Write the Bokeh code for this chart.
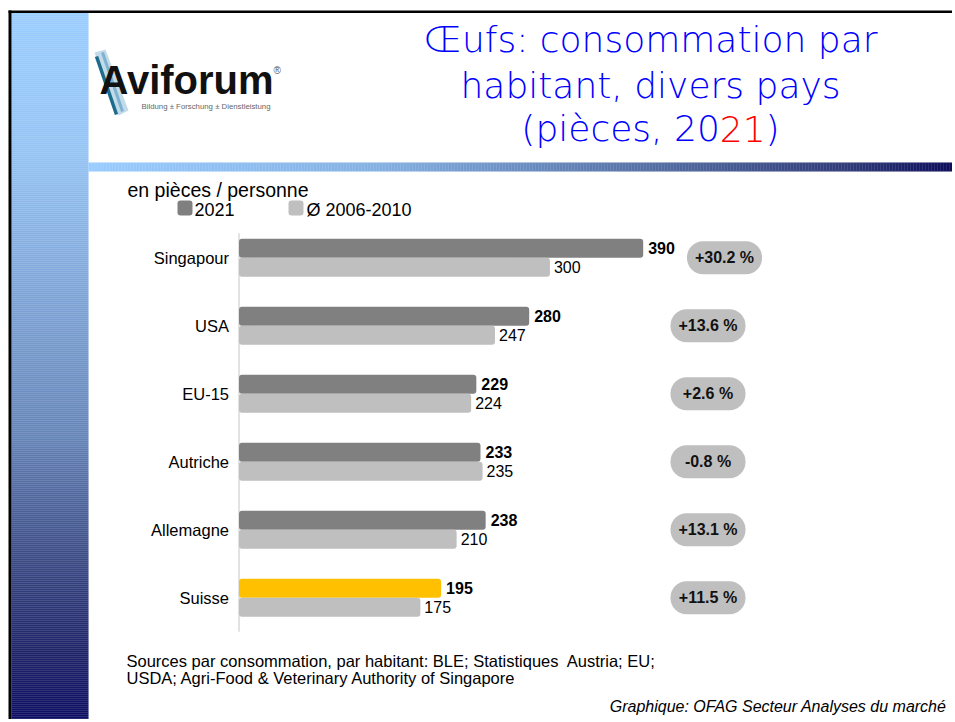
from bokeh.plotting import figure
from bokeh.models import Range1d
from bokeh.core.properties import value
from bokeh.embed import file_html
from bokeh.resources import INLINE

# ---------------- data ----------------
countries = ["Singapour", "USA", "EU-15", "Autriche", "Allemagne", "Suisse"]
values_2021 = [390, 280, 229, 233, 238, 195]
values_avg = [300, 247, 224, 235, 210, 175]
changes = ["+30.2 %", "+13.6 %", "+2.6 %", "-0.8 %", "+13.1 %", "+11.5 %"]
highlight = "Suisse"
series_labels = ["2021", "Ø 2006-2010"]
unit_label = "en pièces / personne"
title_lines = ["Œufs: consommation par", "habitant, divers pays"]
title_line3 = ["(pièces, 20", "21", ")"]
source_lines = ["Sources par consommation, par habitant: BLE; Statistiques\u00a0 Austria; EU;",
                "USDA; Agri-Food & Veterinary Authority of Singapore"]
credit = "Graphique: OFAG Secteur Analyses du marché"
logo_name = "Aviforum"
logo_tag = "Bildung ± Forschung ± Dienstleistung"

# ---------------- layout / style ----------------
W, H = 952, 719
OX, OY = 0, 0                     # figure units == page pixels
X0 = 238.5                        # page x of value 0
K = 1.0364                        # pixels per piece
Y0 = 257.3                        # page y of first row centre
ROW = 68.0                        # pixels per row
BAR = 19.0 / ROW                  # bar thickness in row units
PILL_H = 33.0 / ROW
PILL_W = 75.0
pill_cx = [724, 707.5, 707.5, 707.5, 707.5, 707.5]

DARK, LIGHT, YELLOW = "#808080", "#BFBFBF", "#FFC000"
ARIAL = value("Liberation Sans")
TITLE_FONT = value("'DejaVu Sans Light', 'DejaVu Sans'")


def mid(baseline, size, k=0.31):
    """y of the em-box middle for a text whose baseline should sit at `baseline`"""
    return baseline - k * size


p = figure(width=W, height=H, x_range=Range1d(OX, OX + W), y_range=Range1d(OY + H, OY),
           x_axis_type=None, y_axis_type=None, output_backend="svg",
           toolbar_location=None, tools="", min_border=0,
           outline_line_color=None, background_fill_color="white",
           border_fill_color="white")
p.extra_x_ranges = {"val": Range1d((OX - X0) / K, (OX + W - X0) / K)}
p.extra_y_ranges = {"row": Range1d((OY + H - Y0) / ROW, (OY - Y0) / ROW)}


def lerp_color(stops, pos):
    for (p0, c0), (p1, c1) in zip(stops, stops[1:]):
        if p0 <= pos <= p1:
            t = (pos - p0) / (p1 - p0)
            c = [round(a + (b - a) * t) for a, b in zip(c0, c1)]
            return "#%02x%02x%02x" % tuple(c)
    return "#%02x%02x%02x" % tuple(stops[-1][1])


# ---------------- slide decoration ----------------
band_stops = [(12, (153, 204, 255)), (150, (148, 196, 244)), (250, (134, 174, 224)),
              (436, (101, 132, 184)), (550, (62, 78, 136)), (650, (30, 36, 104)),
              (722, (12, 12, 98))]
ys = list(range(12, OY + H, 2))
p.quad(left=11, right=88, top=ys, bottom=[y + 2.2 for y in ys],
       fill_color=[lerp_color(band_stops, y + 1) for y in ys], line_color=None)

bar_stops = [(88, (153, 204, 255)), (380, (133, 176, 226)), (666, (82, 107, 160)),
             (850, (48, 58, 120)), (955, (12, 12, 90))]
xs = list(range(88, OX + W, 3))
p.quad(left=xs, right=[x + 3.3 for x in xs], top=162, bottom=171,
       fill_color=[lerp_color(bar_stops, x + 1.5) for x in xs], line_color=None)

# black frame
p.quad(left=8, right=11, top=10, bottom=OY + H, fill_color="black", line_color=None)
p.quad(left=8, right=OX + W, top=10, bottom=12.5, fill_color="black", line_color=None)

# logo
p.patch(x=[94, 105, 128, 118], y=[52, 49, 110, 115], fill_color="#BCD6E8",
        line_color=None, fill_alpha=0.9)
p.line(x=[102, 122], y=[52, 111], line_color="#7DB3CF", line_width=3)
p.line(x=[96, 116], y=[56, 114], line_color="#1D6C8C", line_width=3.5)
p.text(x=[99], y=[mid(92, 40)], text=[logo_name], text_font=ARIAL, text_font_size="40px",
       text_font_style="bold", text_color="#111111", text_baseline="middle")
p.text(x=[273], y=[70], text=["®"], text_font=ARIAL, text_font_size="10px",
       text_color="#555555", text_baseline="middle")
p.text(x=[141], y=[105.5], text=[logo_tag], text_font=ARIAL, text_font_size="7.8px",
       text_color="#666666", text_baseline="middle")

# title
TS = 36
TK = 0.30
p.text(x=[650, 650], y=[mid(50, TS, TK), mid(96, TS, TK)], text=title_lines,
       text_font=TITLE_FONT, text_font_size=f"{TS}px", text_color="#0000FF",
       text_align="center", text_baseline="middle")
w_a, w_b, w_c = 5.512 * TS, 1.272 * TS, 0.39 * TS
x_start = 650 - (w_a + w_b + w_c) / 2
x_red = x_start + w_a
y3 = mid(139, TS, TK)
p.text(x=[x_red], y=[y3], text=[title_line3[0]], text_font=TITLE_FONT,
       text_font_size=f"{TS}px", text_color="#0000FF", text_align="right",
       text_baseline="middle")
p.text(x=[x_red], y=[y3], text=[title_line3[1]], text_font=TITLE_FONT,
       text_font_size=f"{TS}px", text_color="#FF0000", text_align="left",
       text_baseline="middle")
p.text(x=[x_red + w_b], y=[y3], text=[title_line3[2]], text_font=TITLE_FONT,
       text_font_size=f"{TS}px", text_color="#0000FF", text_align="left",
       text_baseline="middle")

# ---------------- legend ----------------
p.text(x=[127], y=[mid(196, 19.5)], text=[unit_label], text_font=ARIAL,
       text_font_size="19.5px", text_color="black", text_baseline="middle")
p.quad(left=[177, 288], right=[192, 303], top=200, bottom=215,
       fill_color=[DARK, LIGHT], line_color=None, border_radius=3)
p.text(x=[194, 306], y=[mid(215, 18)] * 2, text=series_labels, text_font=ARIAL,
       text_font_size="18px", text_color="black", text_baseline="middle")

# ---------------- chart ----------------
rows = list(range(len(countries)))
dark_colors = [YELLOW if c == highlight else DARK for c in countries]

p.segment(x0=[0], x1=[0], y0=[rows[0] - 0.36], y1=[rows[-1] + 0.5],
          line_color="#D9D9D9", line_width=1.5, x_range_name="val", y_range_name="row")

p.hbar(y=[r - BAR / 2 for r in rows], height=BAR, left=0, right=values_2021,
       fill_color=dark_colors, line_color=None, border_radius=3,
       x_range_name="val", y_range_name="row")
p.hbar(y=[r + BAR / 2 for r in rows], height=BAR, left=0, right=values_avg,
       fill_color=LIGHT, line_color=None, border_radius=3,
       x_range_name="val", y_range_name="row")

p.text(x=[0] * len(rows), y=rows, text=countries, x_offset=-10, text_align="right",
       text_baseline="middle", text_font=ARIAL, text_font_size="16.5px",
       text_color="black", x_range_name="val", y_range_name="row")
p.text(x=values_2021, y=[r - BAR / 2 for r in rows], text=[str(v) for v in values_2021],
       x_offset=5, text_baseline="middle", text_font=ARIAL, text_font_size="16px",
       text_font_style="bold", text_color="black", x_range_name="val", y_range_name="row")
p.text(x=values_avg, y=[r + BAR / 2 for r in rows], text=[str(v) for v in values_avg],
       x_offset=4, text_baseline="middle", text_font=ARIAL, text_font_size="16px",
       text_color="black", x_range_name="val", y_range_name="row")

# change pills
p.quad(left=[c - PILL_W / 2 for c in pill_cx], right=[c + PILL_W / 2 for c in pill_cx],
       top=[r - PILL_H / 2 for r in rows], bottom=[r + PILL_H / 2 for r in rows],
       fill_color=LIGHT, line_color=None, border_radius=16, y_range_name="row")
p.text(x=pill_cx, y=rows, text=changes, text_align="center", text_baseline="middle",
       text_font=ARIAL, text_font_size="16px", text_font_style="bold",
       text_color="#111111", y_range_name="row")

# ---------------- footer ----------------
p.text(x=[126, 126], y=[mid(665.5, 16.5), mid(683, 16.5)], text=source_lines,
       text_font=ARIAL, text_font_size="16.5px", text_color="black",
       text_baseline="middle")
p.text(x=[946], y=[mid(711, 16)], text=[credit], text_font=ARIAL, text_font_size="16px",
       text_font_style="italic", text_color="black", text_align="right",
       text_baseline="middle")

open("out.html", "w").write(file_html(p, INLINE))
